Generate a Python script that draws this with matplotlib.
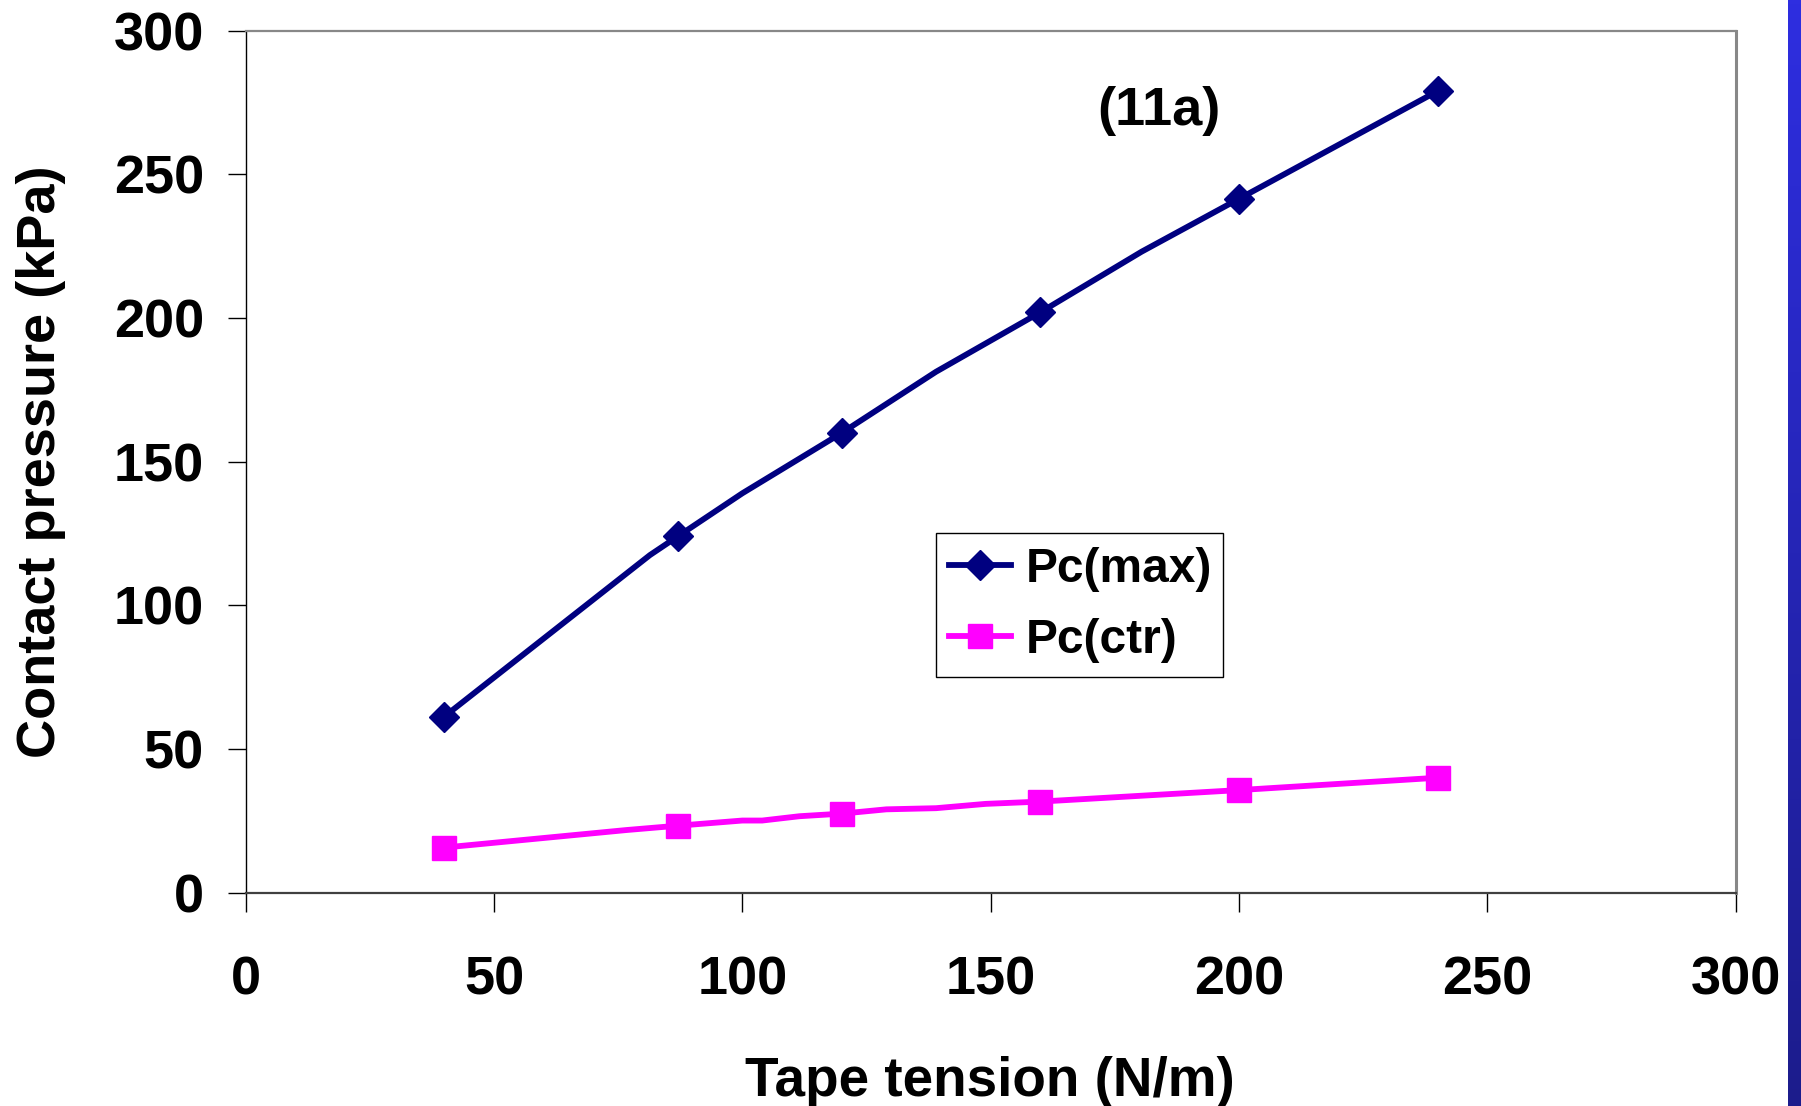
import numpy as np
from matplotlib import pyplot as plt

plt.rcParams['font.family'] = ['Liberation Sans', 'DejaVu Sans']
plt.rcParams['font.weight'] = 'bold'
plt.rcParams['axes.labelweight'] = 'bold'

# tape tension (N/m) and contact pressure (kPa)
# the lines bend at a few unmarked points too, so markers go only on the measured ones
tension_max = [40, 81.4, 87, 100, 120, 139, 160, 180.4, 200, 240]
pc_max = [61.3, 117.5, 124, 139, 160, 181.3, 202, 223.1, 241.5, 279]
marks_max = [0, 2, 4, 6, 8, 9]

tension_ctr = [40, 76.7, 87, 100, 104, 111.5, 120, 129, 139, 149, 160, 200, 240]
pc_ctr = [15.7, 21.8, 23.3, 25.1, 25.1, 26.6, 27.5, 29.0, 29.4, 30.9, 31.7, 35.7, 40]
marks_ctr = [0, 2, 6, 10, 11, 12]

xticks = [0, 50, 100, 150, 200, 250, 300]
yticks = [0, 50, 100, 150, 200, 250, 300]

fig = plt.figure(figsize=(18.01, 11.06), dpi=100)
ax = fig.add_axes([0.1364, 0.1929, 0.8273, 0.7793])

ax.plot(tension_max, pc_max, color="#000080", lw=4.2, marker="D", ms=15.5,
        markevery=marks_max, label="Pc(max)")
ax.plot(tension_ctr, pc_ctr, color="#FF00FF", lw=4.2, marker="s", ms=17.5,
        markevery=marks_ctr, label="Pc(ctr)")

ax.set_xlim(0, 300)
ax.set_ylim(0, 300)
ax.set_xticks(xticks)
ax.set_yticks(yticks)
ax.tick_params(axis="both", direction="out", width=1, color="black", labelsize=39)
ax.tick_params(axis="y", length=13, pad=17)
ax.tick_params(axis="x", length=14, pad=31)

ax.spines["left"].set_color("black")
ax.spines["left"].set_linewidth(1)
ax.spines["bottom"].set_color("#404040")
ax.spines["bottom"].set_linewidth(1.6)
ax.spines["top"].set_color("#888888")
ax.spines["top"].set_linewidth(1.6)
ax.spines["right"].set_color("#888888")
ax.spines["right"].set_linewidth(2.2)

ax.set_xlabel("Tape tension (N/m)", fontsize=39.5, va="center")
ax.set_ylabel("Contact pressure (kPa)", fontsize=39, va="center")
ax.xaxis.set_label_coords(0.4996, -0.2195)
ax.yaxis.set_label_coords(-0.1375, 0.5)

ax.text(183.9, 272, "(11a)", fontsize=39, ha="center", va="center")

leg = ax.legend(loc="lower left", bbox_to_anchor=(0.463, 0.2506, 0.193, 0.1624),
                mode="expand", fontsize=34.5, handlelength=1.3, handletextpad=0.3,
                borderpad=0.28, labelspacing=0.55, borderaxespad=0, fancybox=False,
                framealpha=1, edgecolor="black")
leg.get_frame().set_linewidth(1)

# blue strip along the right edge of the slide
strip = fig.add_axes([1787.7 / 1801, 0, 1 - 1787.7 / 1801, 1])
grad = np.linspace(0, 1, 256).reshape(-1, 1)
top_c = np.array([46, 46, 224]) / 255
bot_c = np.array([28, 28, 140]) / 255
img = top_c[None, None, :] * (1 - grad[:, :, None]) + bot_c[None, None, :] * grad[:, :, None]
strip.imshow(img, aspect="auto", extent=[0, 1, 0, 1])
strip.axis("off")

plt.savefig("out.png", dpi=100)
